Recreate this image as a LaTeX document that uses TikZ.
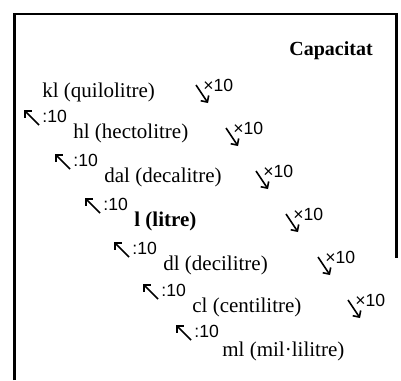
\documentclass[tikz,border=0pt]{standalone}
\usepackage{fontspec}
\setmainfont{Liberation Serif}
\setsansfont{Liberation Sans}
\usetikzlibrary{arrows.meta}

\begin{document}
\begin{tikzpicture}[x=0.5pt,y=-0.5pt,
    unit/.style={anchor=base west,inner sep=0pt,
                 font=\fontsize{10.5}{12}\selectfont},
    fac/.style={anchor=base west,inner sep=0pt,
                font=\sffamily\fontsize{8.8}{10}\selectfont},
    dn/.style={-{Straight Barb[angle=90:3.4pt]},line width=0.8pt},
    up/.style={-{Straight Barb[angle=90:3.4pt]},line width=0.8pt}]
    \useasboundingbox (0,0) rectangle (401,380);
    \draw[line width=1.2pt] (14.5,380) -- (14.5,14) -- (396.5,14) -- (396.5,258);
    \node[unit,font=\fontsize{10}{12}\selectfont\bfseries] (cap) at (289,55) {Capacitat};
    % units, one per row
    \node[unit] (kl)  at (42,97)   {kl (quilolitre)};
    \node[unit] (hl)  at (73,138)  {hl (hectolitre)};
    \node[unit] (dal) at (104,182) {dal (decalitre)};
    \node[unit,font=\fontsize{10.5}{12}\selectfont\bfseries] (l) at (134,226) {l (litre)};
    \node[unit] (dl)  at (163,270) {dl (decilitre)};
    \node[unit] (cl)  at (192,312) {cl (centilitre)};
    \node[unit] (ml)  at (222,356) {ml (mil·lilitre)};
    % x10 going down
    \draw[dn] ([shift={(154,-12)}]kl.base west)  -- ++(12,18);
    \draw[dn] ([shift={(153,-10)}]hl.base west)  -- ++(12,18);
    \draw[dn] ([shift={(152,-11)}]dal.base west) -- ++(12,18);
    \draw[dn] ([shift={(152,-12)}]l.base west)   -- ++(12,18);
    \draw[dn] ([shift={(155,-13)}]dl.base west)  -- ++(12,18);
    \draw[dn] ([shift={(156,-12)}]cl.base west)  -- ++(12,18);
    \node[fac] (m1) at ([shift={(161,-6)}]kl.base west)  {×10};
    \node[fac] (m2) at ([shift={(160,-4)}]hl.base west)  {×10};
    \node[fac] (m3) at ([shift={(159,-5)}]dal.base west) {×10};
    \node[fac] (m4) at ([shift={(159,-6)}]l.base west)   {×10};
    \node[fac] (m5) at ([shift={(162,-7)}]dl.base west)  {×10};
    \node[fac] (m6) at ([shift={(163,-6)}]cl.base west)  {×10};
    % :10 going up
    \node[fac] (d2) at ([shift={(-31,-16)}]hl.base west)  {:10};
    \node[fac] (d3) at ([shift={(-31,-16)}]dal.base west) {:10};
    \node[fac] (d4) at ([shift={(-31,-16)}]l.base west)   {:10};
    \node[fac] (d5) at ([shift={(-31,-16)}]dl.base west)  {:10};
    \node[fac] (d6) at ([shift={(-31,-16)}]cl.base west)  {:10};
    \node[fac] (d7) at ([shift={(-28,-19)}]ml.base west)  {:10};
    \draw[up] ([shift={(-3,3)}]d2.base west) -- ++(-15,-15);
    \draw[up] ([shift={(-3,3)}]d3.base west) -- ++(-15,-15);
    \draw[up] ([shift={(-3,3)}]d4.base west) -- ++(-15,-15);
    \draw[up] ([shift={(-3,3)}]d5.base west) -- ++(-15,-15);
    \draw[up] ([shift={(-3,3)}]d6.base west) -- ++(-15,-15);
    \draw[up] ([shift={(-3,3)}]d7.base west) -- ++(-15,-15);
\end{tikzpicture}
\end{document}
